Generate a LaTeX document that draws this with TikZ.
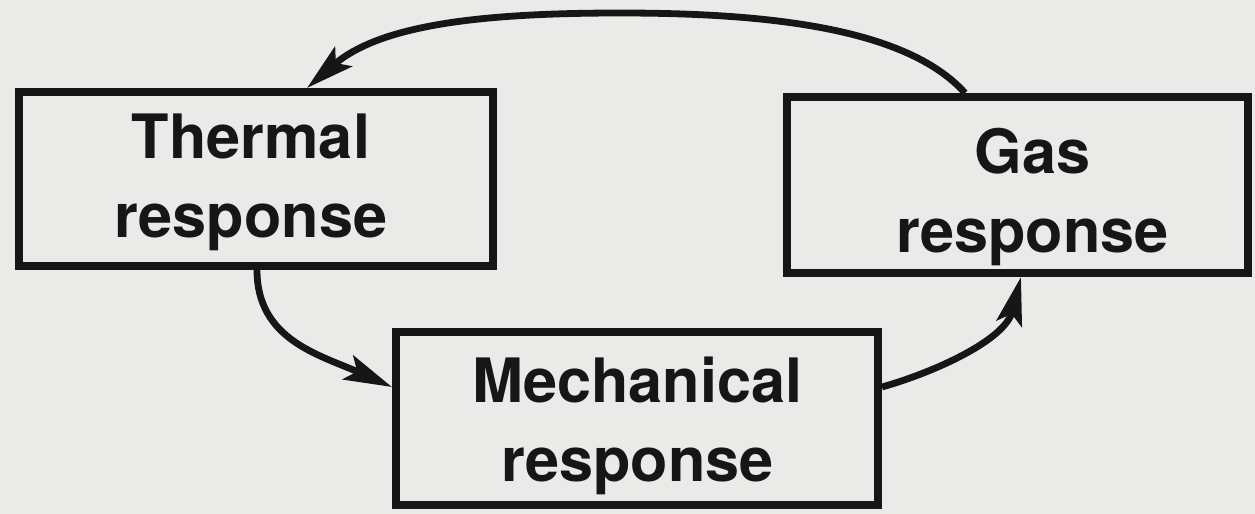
\documentclass[tikz,border=0pt]{standalone}
\usepackage{fontspec}
\setmainfont{TeX Gyre Heros}
\usetikzlibrary{arrows.meta,calc}
\definecolor{paper}{RGB}{234,234,232}
\definecolor{ink}{RGB}{22,22,22}
\begin{document}
\begin{tikzpicture}[x=0.5pt,y=-0.5pt,
  stagebox/.style={draw=ink,line width=4.2pt,rectangle,inner sep=0pt},
  stagetext/.style={text=ink,align=center,inner sep=0pt,
    font=\fontsize{30.6pt}{39.5pt}\selectfont\bfseries},
  flow/.style={draw=ink,line width=3.4pt,
    -{Stealth[length=24pt,width=13pt,inset=5pt]}}
]
% sheet
\fill[paper] (0,0) rectangle (1255,514);
\useasboundingbox (0,0) rectangle (1255,514);

% the three coupled responses
\node[stagebox,minimum width=236.8pt,minimum height=86.8pt] (thermal) at (256,179) {};
\node[stagebox,minimum width=230.3pt,minimum height=87.8pt] (gas) at (1017.5,185) {};
\node[stagebox,minimum width=240.8pt,minimum height=86.3pt] (mech) at (637,418.5) {};

\node[stagetext] (thermaltext) at (251,182.5) {Thermal\\response};
\node[stagetext] (gastext) at (1032.5,196.5) {Gas\\response};
\node[stagetext] (mechtext) at (637.5,426) {Mechanical\\response};

% feedback loop
\coordinate (loopTop) at (620,13);
\draw[flow] ([xshift=-26.25pt]gas.north)
  .. controls +(-60,-67) and +(140,0) .. (loopTop)
  .. controls +(-140,0) and +(73,-63) .. ([xshift=25.5pt]thermal.north);
\draw[flow] ([xshift=0.5pt]thermal.south)
  .. controls +(0,70) and +(-72,-32) .. ([yshift=15.75pt]mech.west);
\draw[flow] ([yshift=15.75pt]mech.east)
  .. controls +(53,-15) and +(-16,63) .. ([xshift=1.75pt]gas.south);
\end{tikzpicture}
\end{document}
